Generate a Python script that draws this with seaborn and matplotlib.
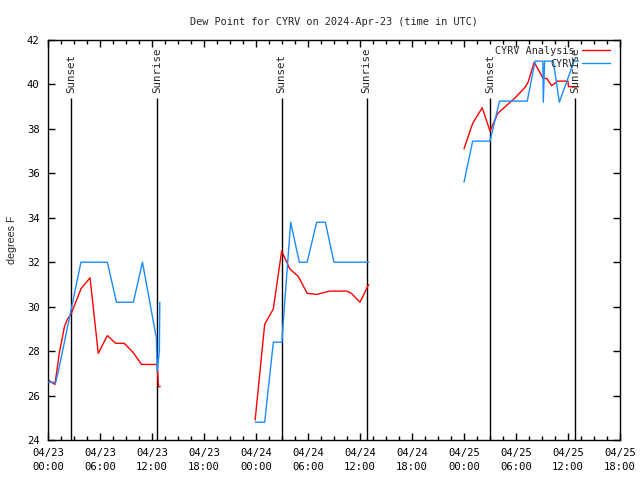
import numpy as np
import pandas as pd
import matplotlib
matplotlib.use('Agg')
import matplotlib.pyplot as plt
from matplotlib.lines import Line2D
from matplotlib.ticker import MultipleLocator
import seaborn as sns

sns.set_style("ticks")
plt.rcParams['font.family'] = ['DejaVu Sans Mono']
plt.rcParams['font.size'] = 7.2

# hours since 2024-04-23 00:00 UTC
red_t1 = [0, 0.8, 1.3, 1.9, 2.2, 2.7, 3.8, 4.85, 5.8, 6.85, 7.8, 8.8, 9.8, 10.8, 12.6, 12.75, 12.95]
red_v1 = [26.7, 26.5, 27.9, 29.1, 29.4, 29.7, 30.8, 31.3, 27.9, 28.7, 28.35, 28.35, 27.95, 27.4, 27.4, 26.4, 26.4]
red_t2 = [23.9, 25.0, 26.0, 26.96, 27.9, 28.9, 29.9, 31.0, 32.5, 34.5, 35.0, 36.0, 37.0]
red_v2 = [24.9, 29.2, 29.9, 32.5, 31.7, 31.35, 30.6, 30.55, 30.7, 30.7, 30.6, 30.2, 31.0]
red_t3 = [48.0, 49.0, 50.1, 51.0, 51.9, 52.9, 53.9, 55.0, 55.4, 56.1, 57.1, 57.6, 58.1, 58.5, 58.8, 60.0, 60.05, 61.2]
red_v3 = [37.1, 38.25, 38.95, 37.9, 38.7, 39.05, 39.4, 39.85, 40.1, 41.0, 40.3, 40.25, 39.95, 40.05, 40.15, 40.15, 39.9, 39.9]

blue_t1 = [0, 0.9, 1.2, 3.8, 6.85, 7.9, 9.85, 10.9, 12.5, 12.6, 12.85, 12.9]
blue_v1 = [26.6, 26.6, 27.1, 32.0, 32.0, 30.2, 30.2, 32.0, 28.6, 27.1, 28.0, 30.2]
blue_t2 = [23.9, 25.0, 26.0, 27.0, 27.05, 28.0, 29.0, 29.9, 31.0, 32.0, 33.0, 37.0]
blue_v2 = [24.8, 24.8, 28.4, 28.4, 28.8, 33.8, 32.0, 32.0, 33.8, 33.8, 32.0, 32.0]
blue_t3 = [48.0, 49.0, 51.0, 52.1, 55.3, 56.2, 57.1, 57.15, 57.3, 58.3, 59.0, 60.7, 61.2]
blue_v3 = [35.6, 37.45, 37.45, 39.25, 39.25, 41.05, 41.05, 39.2, 41.05, 41.05, 39.2, 41.05, 41.05]

sunset_t = [2.69, 26.96, 51.04]
sunrise_t = [12.61, 36.77, 60.85]

xtick_hours = list(range(0, 67, 6))
xtick_labels = ['04/23\n00:00', '04/23\n06:00', '04/23\n12:00', '04/23\n18:00',
                '04/24\n00:00', '04/24\n06:00', '04/24\n12:00', '04/24\n18:00',
                '04/25\n00:00', '04/25\n06:00', '04/25\n12:00', '04/25\n18:00']

red = '#ff0000'
blue = '#1a8cff'

fig = plt.figure(figsize=(6.4, 4.8), dpi=100)
ax = fig.add_axes([48/640, 40/480, 572/640, 400/480])

# sunrise / sunset markers
for t in sunset_t:
    ax.vlines(t, 24, 39.4, color='black', lw=1, zorder=1)
    ax.text(t, 39.62, 'Sunset', rotation=90, ha='center', va='bottom', fontsize=7.8)
for t in sunrise_t:
    ax.vlines(t, 24, 39.4, color='black', lw=1, zorder=1)
    ax.text(t, 39.62, 'Sunrise', rotation=90, ha='center', va='bottom', fontsize=7.8)

for t, v in [(red_t1, red_v1), (red_t2, red_v2), (red_t3, red_v3)]:
    df = pd.DataFrame({'hours': t, 'dewpoint': v})
    sns.lineplot(data=df, x='hours', y='dewpoint', color=red, lw=1,
                 estimator=None, sort=False, ax=ax, zorder=2)
for t, v in [(blue_t1, blue_v1), (blue_t2, blue_v2), (blue_t3, blue_v3)]:
    df = pd.DataFrame({'hours': t, 'dewpoint': v})
    sns.lineplot(data=df, x='hours', y='dewpoint', color=blue, lw=1,
                 estimator=None, sort=False, ax=ax, zorder=3)

ax.set_xlim(0, 66)
ax.set_ylim(24, 42)
ax.set_xticks(xtick_hours)
ax.set_xticklabels(xtick_labels, linespacing=1.5)
ax.xaxis.set_minor_locator(MultipleLocator(1.5))
ax.set_yticks(np.arange(24, 43, 2))
ax.tick_params(which='both', direction='in', top=True, right=True, colors='black')
ax.tick_params(which='major', length=5, width=1, pad=6, labelsize=7.6)
ax.tick_params(which='minor', length=3, width=1)
for s in ax.spines.values():
    s.set_color('black')
    s.set_linewidth(1)

ax.set_xlabel('')
ax.set_ylabel('degrees F', labelpad=7, fontsize=7.7, family=['Liberation Sans'])
ax.set_title('Dew Point for CYRV on 2024-Apr-23 (time in UTC)', fontsize=7.4, pad=11)

handles = [Line2D([], [], color=red, lw=1), Line2D([], [], color=blue, lw=1)]
ax.legend(handles, ['CYRV Analysis', 'CYRV'], loc='upper right',
          bbox_to_anchor=(0.9825, 0.985), frameon=False, markerfirst=False,
          handlelength=2.8, handletextpad=0.7, labelspacing=0.25,
          borderpad=0, borderaxespad=0, fontsize=7.3)

fig.savefig('out.png', dpi=100)
